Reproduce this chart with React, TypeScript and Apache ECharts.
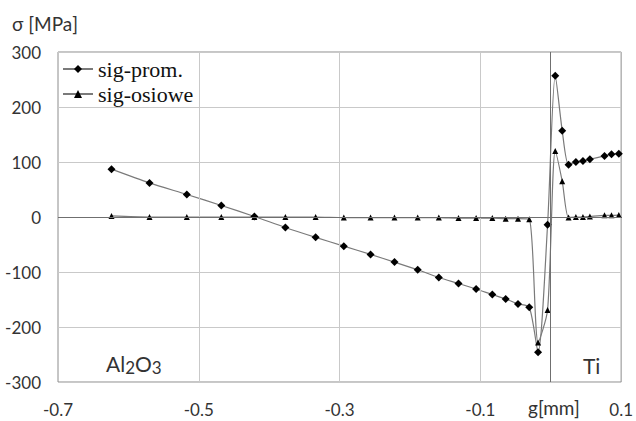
import React, { useEffect, useRef } from "react";
import * as echarts from "echarts";

const gValues = [-0.624, -0.570, -0.517, -0.468, -0.421, -0.377, -0.334, -0.294, -0.256, -0.222, -0.189, -0.159, -0.131, -0.106, -0.083, -0.064, -0.0465, -0.0305, -0.018, -0.0045, 0.0064, 0.0163, 0.0253, 0.0357, 0.0457, 0.0556, 0.0764, 0.0863, 0.0967];
const sigProm = [87, 62, 41, 21, 1, -19, -37, -53, -68, -82, -96, -110, -121, -131, -141, -149, -158, -164, -246, -14, 257, 157, 95, 100, 102, 105, 111, 114, 115];
const sigOsiowe = [2, 0, 0, 0, 0, 0, 0, -1, -1, -1, -1, -1, -2, -2, -2, -3, -3, -4, -228, -169, 120, 65, -1, 0, 0, 1, 3, 3, 3.5];
const xLabelTicks = [-0.7, -0.5, -0.3, -0.1, 0.1];
const xGridTicks = [-0.5, -0.3, -0.1];

const SANS = "Lato, 'Open Sans', sans-serif";
const SERIF = "'Liberation Serif', 'DejaVu Serif', serif";

export default function App() {
  const ref = useRef<HTMLDivElement>(null);
  useEffect(() => {
    if (!ref.current) return;
    const chart = echarts.init(ref.current, null, { renderer: "svg" });
    const pts = (ys: number[]) => gValues.map((x, i) => [x, ys[i]]);
    chart.setOption({
      animation: false,
      backgroundColor: "#ffffff",
      grid: { left: 58, top: 52, width: 564, height: 330, show: true, borderColor: "#8c8c8c", borderWidth: 1 },
      legend: {
        orient: "vertical",
        left: 57,
        top: 53,
        itemWidth: 30,
        itemHeight: 10,
        itemGap: 3,
        textStyle: { fontFamily: SERIF, fontSize: 22, lineHeight: 22, color: "#111" },
        data: ["sig-prom.", "sig-osiowe"],
      },
      xAxis: {
        type: "value",
        min: -0.7,
        max: 0.1,
        interval: 0.1,
        axisLine: { show: false, onZero: false },
        axisTick: { show: false },
        splitLine: { show: false },
        axisLabel: {
          margin: 19,
          fontFamily: SANS,
          fontSize: 17,
          color: "#333",
          formatter: (v: number) => {
            const hit = xLabelTicks.find((t) => Math.abs(t - v) < 1e-6);
            return hit === undefined ? "" : String(hit);
          },
        },
      },
      yAxis: {
        type: "value",
        min: -300,
        max: 300,
        interval: 100,
        axisLine: { show: false },
        axisTick: { show: false },
        splitLine: { show: true, lineStyle: { color: "#c9c9c9", width: 1 } },
        axisLabel: { margin: 17, fontFamily: SANS, fontSize: 17, color: "#333" },
      },
      series: [
        {
          name: "grid",
          type: "line",
          data: [],
          z: 1,
          silent: true,
          markLine: {
            silent: true,
            symbol: "none",
            label: { show: false },
            lineStyle: { color: "#c9c9c9", width: 1, type: "solid" },
            data: xGridTicks.map((t) => ({ xAxis: t })),
          },
        },
        {
          name: "axes",
          type: "line",
          data: [],
          z: 2,
          silent: true,
          markLine: {
            silent: true,
            symbol: "none",
            label: { show: false },
            lineStyle: { color: "#6f6f6f", width: 1, type: "solid" },
            data: [{ xAxis: 0 }, { yAxis: 0 }],
          },
        },
        {
          name: "sig-prom.",
          type: "line",
          data: pts(sigProm),
          smooth: 0.25,
          symbol: "diamond",
          symbolSize: 8,
          z: 3,
          lineStyle: { color: "#7a7a7a", width: 1.2 },
          itemStyle: { color: "#000" },
        },
        {
          name: "sig-osiowe",
          type: "line",
          data: pts(sigOsiowe),
          smooth: 0.25,
          symbol: "triangle",
          symbolSize: 6,
          z: 3,
          lineStyle: { color: "#7a7a7a", width: 1.2 },
          itemStyle: { color: "#000" },
        },
      ],
      graphic: [
        { type: "text", left: 12, top: 14, style: { text: "σ [MPa]", fontFamily: SANS, fontSize: 19, fill: "#333" } },
        { type: "text", left: 528, top: 398, style: { text: "g[mm]", fontFamily: SANS, fontSize: 19, fill: "#333" } },
        {
          type: "text",
          left: 106,
          top: 353,
          style: {
            text: "Al{s|2}O{s|3}",
            fontFamily: SANS,
            fontSize: 21,
            fill: "#333",
            rich: { s: { fontFamily: SANS, fontSize: 17, fill: "#333", padding: [8, 0, 0, 0] } },
          },
        },
        { type: "text", left: 583, top: 355, style: { text: "Ti", fontFamily: SANS, fontSize: 21, fill: "#333" } },
      ],
    });
    return () => chart.dispose();
  }, []);
  return <div ref={ref} style={{ width: 636, height: 421, position: "absolute", left: 0, top: 0 }} />;
}
